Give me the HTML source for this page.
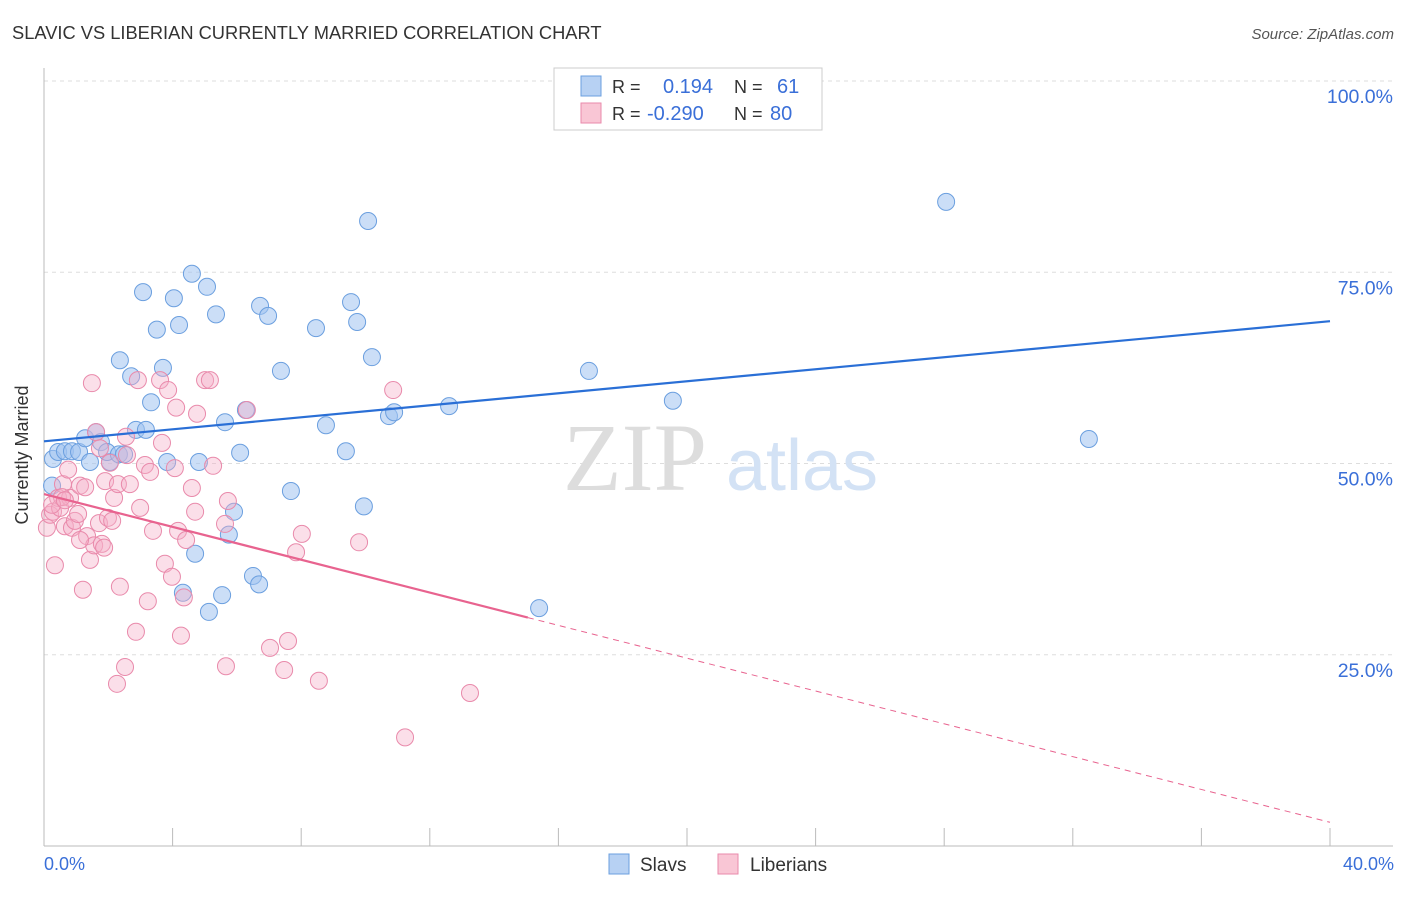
<!DOCTYPE html>
<html><head><meta charset="utf-8"><style>
body{margin:0;background:#fff;font-family:"Liberation Sans",sans-serif}
svg text{font-family:"Liberation Sans",sans-serif}
</style></head><body>
<svg id="chart" width="1406" height="892">
<text x="12" y="39" font-size="18.3" fill="#333">SLAVIC VS LIBERIAN CURRENTLY MARRIED CORRELATION CHART</text>
<text x="1394" y="39" font-size="15" fill="#555" font-style="italic" text-anchor="end">Source: ZipAtlas.com</text>
<g id="grid"></g>
<text x="635" y="490" font-size="96" fill="#ddd" text-anchor="middle" style="font-family:'Liberation Serif',serif">ZIP</text>
<text x="802" y="490" font-size="72" fill="#d3e2f5" text-anchor="middle">atlas</text>
<g id="marks"></g>
<text x="28" y="455" font-size="18" fill="#333" text-anchor="middle" transform="rotate(-90 28 455)">Currently Married</text>
<text x="44" y="870" font-size="18" fill="#3a6fd8">0.0%</text>
<text x="1394" y="870" font-size="18" fill="#3a6fd8" text-anchor="end">40.0%</text>
<g>
<rect x="554" y="68" width="268" height="62" fill="#fff" stroke="#ccc"/>
<rect x="581" y="76" width="20" height="20" fill="#b7d1f3" stroke="#6b9fdf"/>
<rect x="581" y="103" width="20" height="20" fill="#f9c6d5" stroke="#e98aab"/>
<text x="612" y="93" font-size="18" fill="#333">R = </text><text x="663" y="93" font-size="20" fill="#3a6fd8">0.194</text>
<text x="734" y="93" font-size="18" fill="#333">N = </text><text x="777" y="93" font-size="20" fill="#3a6fd8">61</text>
<text x="612" y="120" font-size="18" fill="#333">R = </text><text x="647" y="120" font-size="20" fill="#3a6fd8">-0.290</text>
<text x="734" y="120" font-size="18" fill="#333">N = </text><text x="770" y="120" font-size="20" fill="#3a6fd8">80</text>
</g>
<g>
<rect x="609" y="854" width="20" height="20" fill="#b7d1f3" stroke="#6b9fdf"/>
<text x="640" y="871" font-size="19" fill="#333">Slavs</text>
<rect x="718" y="854" width="20" height="20" fill="#f9c6d5" stroke="#e98aab"/>
<text x="750" y="871" font-size="19" fill="#333">Liberians</text>
</g>
</svg>
<script>
const yTicks=[25,50,75,100];
const yTickLabels=["25.0%","50.0%","75.0%","100.0%"];
const blueX=[0.28,0.44,0.65,0.87,1.09,1.28,1.43,1.62,1.77,2.05,1.96,2.33,2.49,2.36,2.71,2.86,3.08,3.17,3.33,3.51,3.70,3.83,4.04,4.20,4.60,4.82,5.07,5.35,5.63,5.75,5.91,6.10,6.28,6.50,6.69,6.72,6.97,7.37,7.68,8.46,8.77,9.39,9.55,9.74,9.95,10.08,10.20,10.73,10.89,12.60,15.40,16.95,19.56,28.06,32.50,4.70,5.54,5.13,4.32,0.25];
const blueY=[50.6,51.5,51.6,51.6,51.5,53.3,50.2,54.1,52.8,50.2,51.5,51.2,51.2,63.5,61.4,54.4,72.4,54.4,58.0,67.5,62.5,50.2,71.6,68.1,74.8,50.2,73.1,69.5,55.4,40.7,43.7,51.4,57.0,35.3,34.2,70.6,69.3,62.1,46.4,67.7,55.0,51.6,71.1,68.5,44.4,81.7,63.9,56.2,56.7,57.5,31.1,62.1,58.2,84.2,53.2,38.2,32.8,30.6,33.1,47.1];
const pinkX=[0.09,0.19,0.28,0.34,0.44,0.50,0.59,0.65,0.75,0.81,0.87,0.96,1.06,1.12,1.21,1.28,1.34,1.43,1.49,1.56,1.62,1.71,1.80,1.87,1.90,1.99,2.12,2.18,2.27,2.30,2.36,2.52,2.58,2.67,2.86,2.99,3.14,3.23,3.39,3.61,3.67,3.76,3.86,3.98,4.07,4.17,4.26,4.35,4.42,4.60,4.70,4.76,5.01,5.16,5.26,5.63,5.66,5.72,6.31,7.03,7.47,7.59,7.84,8.02,8.55,9.80,10.86,11.23,13.25,2.55,3.30,0.56,1.12,2.05,1.74,4.11,0.25,0.65,2.92];
const pinkY=[41.6,43.3,43.7,36.7,45.5,44.2,47.3,41.8,49.2,45.5,41.6,42.5,43.4,47.1,33.5,46.9,40.5,37.4,60.5,39.3,54.1,42.2,39.5,39.0,47.7,42.9,42.5,45.5,21.2,47.3,33.9,23.4,51.1,47.3,28.0,44.2,49.8,32.0,41.2,60.9,52.7,36.9,59.6,35.2,49.4,41.2,27.5,32.5,40.0,46.8,43.7,56.5,60.9,60.9,49.7,42.1,23.5,45.1,57.0,25.9,23.0,26.8,38.4,40.8,21.6,39.7,59.6,14.2,20.0,53.5,48.9,45.6,40.0,50.1,52.0,57.3,44.6,45.2,60.9];
const blueTrend=[52.9,68.6];
const pinkTrend=[46.0,3.1];
const pinkSolidEnd=15.05;
const NS='http://www.w3.org/2000/svg';
const X=v=>44+v*32.15, Y=v=>846-v*7.65;
function mk(t,a,p){const e=document.createElementNS(NS,t);for(const k in a)e.setAttribute(k,a[k]);p.appendChild(e);return e;}
const g=document.getElementById('grid'), m=document.getElementById('marks');
yTicks.forEach((t,i)=>{
 const l=mk('line',{x1:44,x2:1393,y1:Y(t),y2:Y(t),stroke:'#ddd','stroke-dasharray':'4,4'},g);
 
 
 const tx=mk('text',{x:1393,y:Y(t)+22,'font-size':19.5,fill:'#3a6fd8','text-anchor':'end'},g);
 tx.textContent=yTickLabels[i];
 
 
});
const ax=mk('line',{x1:44,x2:44,y1:68,y2:846,stroke:'#bbb'},g);


const bx=mk('line',{x1:44,x2:1393,y1:846,y2:846,stroke:'#bbb'},g);


for(let i=0;i<=10;i++){
 const t=mk('line',{x1:X(i*4),x2:X(i*4),y1:828,y2:846,stroke:'#bbb'},g);
 
 
}
blueX.forEach((x,i)=>{
 const c=mk('circle',{cx:X(x),cy:Y(blueY[i]),r:8.5,fill:'rgba(160,195,240,0.55)',stroke:'#6b9fdf','stroke-width':1},m);
 
 
});
pinkX.forEach((x,i)=>{
 const c=mk('circle',{cx:X(x),cy:Y(pinkY[i]),r:8.5,fill:'rgba(245,175,200,0.4)',stroke:'#e98aab','stroke-width':1},m);
 
 
});
const bl=mk('line',{x1:X(0),y1:Y(blueTrend[0]),x2:X(40),y2:Y(blueTrend[1]),stroke:'#2a6fd6','stroke-width':2.2},m);


const pe=pinkTrend[0]+(pinkTrend[1]-pinkTrend[0])*pinkSolidEnd/40;
const pl=mk('line',{x1:X(0),y1:Y(pinkTrend[0]),x2:X(pinkSolidEnd),y2:Y(pe),stroke:'#e8638f','stroke-width':2.2},m);


const pd=mk('line',{x1:X(pinkSolidEnd),y1:Y(pe),x2:X(40),y2:Y(pinkTrend[1]),stroke:'#e8638f','stroke-width':1,'stroke-dasharray':'6,5'},m);


</script>
</body></html>
